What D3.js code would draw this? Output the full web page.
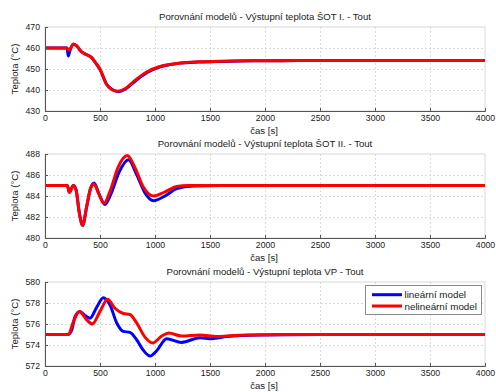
<!DOCTYPE html>
<html>
<head>
<meta charset="utf-8">
<script src="https://cdn.jsdelivr.net/npm/d3@7"></script>
<style>
  html, body { margin: 0; padding: 0; background: #fff; }
  svg { display: block; }
  text { font-family: "Liberation Sans", Arial, sans-serif; fill: #1a1a1a; }
</style>
</head>
<body>
<svg id="chart" width="496" height="392"></svg>
<script>
// ---------- DATA ----------
const titles = [
  "Porovnání modelů - Výstupní teplota ŠOT I. - Tout",
  "Porovnání modelů - Výstupní teplota ŠOT II. - Tout",
  "Porovnání modelů - Výstupní teplota VP - Tout"
];
const xLabel = "čas [s]";
const yLabel = "Teplota (°C)";
const seriesNames = ["lineární model", "nelineární model"];
const xTicks = [0, 500, 1000, 1500, 2000, 2500, 3000, 3500, 4000];
const yTicks1 = [430, 440, 450, 460, 470];
const yTicks2 = [480, 482, 484, 486, 488];
const yTicks3 = [572, 574, 576, 578, 580];

// Panel 1 – ŠOT I.
const p1LinT = [0,200,212,225,258,288,333,379,424,455,500,561,615,668,730,822,928,1034,1140,1230,1400,1600,1900,2300,2800,4000];
const p1LinV = [460,460,456.2,458.5,461.8,461,458.1,456.8,455.4,453.3,449.7,442.6,440.1,439.2,440.4,444.3,448.3,450.8,452.1,452.8,453.3,453.6,453.9,454,454,454];
const p1NonT = [0,197,218,240,258,288,333,379,424,455,500,561,615,658,727,818,924,1030,1136,1227,1400,1600,1900,2300,2800,4000];
const p1NonV = [460,460,458.9,460.6,461.9,461,458.1,456.8,455.4,453.3,450,442.6,440,439.4,440.6,444.6,448.6,450.95,452.2,452.9,453.4,453.7,453.9,454,454,454];

// Panel 2 – ŠOT II.
const p2LinT = [0,203,221,258,282,312,342,379,415,447,487,545,600,675,758,833,909,985,1091,1197,1350,1600,4000];
const p2LinV = [485,485,484.35,485.0,484.6,482.4,481.2,483.0,484.75,485.25,484.3,483.2,484.2,486.3,487.45,486.05,484.3,483.55,484.0,484.7,484.95,485,485];
const p2NonT = [0,203,221,258,282,312,342,379,415,445,485,536,591,667,748,818,894,985,1091,1197,1300,1500,4000];
const p2NonV = [485,485,484.35,485.0,484.6,482.4,481.2,483.0,484.75,485.15,484.3,483.3,484.45,486.8,487.85,486.7,484.85,484.0,484.4,484.9,485,485,485];

// Panel 3 – VP
const p3LinT = [0,212,242,273,318,364,409,470,530,591,652,712,773,833,894,955,1015,1106,1242,1409,1515,1652,1803,2000,2500,4000];
const p3LinV = [575,575,575.4,576.7,577.2,576.8,576.55,577.6,578.5,577.8,576.1,575.3,575.2,574.5,573.5,572.95,573.45,574.6,574.25,574.7,574.6,574.8,574.9,574.95,575,575];
const p3NonT = [0,212,258,312,379,430,500,570,636,712,773,833,909,979,1061,1125,1240,1409,1561,1712,1864,2136,2500,4000];
const p3NonV = [575,575,576.2,577.2,576.4,576.0,577.2,578.35,577.5,577.0,576.9,576.1,574.75,574.2,574.85,575.15,574.85,574.95,574.8,574.9,574.95,575,575,575];

// ---------- LAYOUT ----------
const colors = ["#0000ff", "#ff0000"];
const xLeft = 45, xRight = 485;
const panels = [
  { top: 27,  bottom: 111, ticks: yTicks1, lin: [p1LinT, p1LinV], non: [p1NonT, p1NonV] },
  { top: 154, bottom: 238, ticks: yTicks2, lin: [p2LinT, p2LinV], non: [p2NonT, p2NonV] },
  { top: 282, bottom: 366, ticks: yTicks3, lin: [p3LinT, p3LinV], non: [p3NonT, p3NonV] }
];

const svg = d3.select("#chart");
const x = d3.scaleLinear().domain([xTicks[0], xTicks[xTicks.length - 1]]).range([xLeft, xRight]);

panels.forEach((p, i) => {
  const y = d3.scaleLinear().domain([p.ticks[0], p.ticks[p.ticks.length - 1]]).range([p.bottom, p.top]);
  const g = svg.append("g");

  // frame (light top/right)
  g.append("rect")
    .attr("x", xLeft).attr("y", p.top)
    .attr("width", xRight - xLeft).attr("height", p.bottom - p.top)
    .attr("fill", "#fff").attr("stroke", "#d8d8d8").attr("stroke-width", 1);

  // grid
  g.append("g").selectAll("line").data(xTicks.slice(1, -1)).join("line")
    .attr("x1", d => Math.round(x(d)) + 0.5).attr("x2", d => Math.round(x(d)) + 0.5)
    .attr("y1", p.top).attr("y2", p.bottom)
    .attr("stroke", "#d0d0d0").attr("stroke-dasharray", "2,2").attr("stroke-width", 0.8);
  g.append("g").selectAll("line").data(p.ticks.slice(1, -1)).join("line")
    .attr("y1", d => Math.round(y(d)) + 0.5).attr("y2", d => Math.round(y(d)) + 0.5)
    .attr("x1", xLeft).attr("x2", xRight)
    .attr("stroke", "#d0d0d0").attr("stroke-dasharray", "2,2").attr("stroke-width", 0.8);

  // clip
  const clipId = "clip" + i;
  svg.append("clipPath").attr("id", clipId).append("rect")
    .attr("x", xLeft).attr("y", p.top - 2).attr("width", xRight - xLeft).attr("height", p.bottom - p.top + 4);

  const line = d3.line().x(d => x(d[0])).y(d => y(d[1])).curve(d3.curveMonotoneX);
  const lines = g.append("g").attr("clip-path", `url(#${clipId})`);
  [p.lin, p.non].forEach((s, k) => {
    const pts = s[0].map((t, j) => [t, s[1][j]]);
    lines.append("path").datum(pts).attr("d", line)
      .attr("fill", "none").attr("stroke", colors[k]).attr("stroke-width", 3)
      .attr("stroke-linejoin", "round").attr("stroke-linecap", "round");
  });

  // axes
  const xAxis = d3.axisBottom(x).tickValues(xTicks).tickSize(-3).tickPadding(4).tickFormat(d3.format("d"));
  const yAxis = d3.axisLeft(y).tickValues(p.ticks).tickSize(-3).tickPadding(5).tickFormat(d3.format("d"));
  const gx = g.append("g").attr("transform", `translate(0,${p.bottom})`).call(xAxis);
  const gy = g.append("g").attr("transform", `translate(${xLeft},0)`).call(yAxis);
  [gx, gy].forEach(a => {
    a.select(".domain").attr("stroke", "#555");
    a.selectAll(".tick line").attr("stroke", "#555");
    a.selectAll(".tick text").attr("font-size", "8.7px").attr("fill", "#1a1a1a")
      .attr("font-family", '"Liberation Sans", Arial, sans-serif');
  });

  // title
  g.append("text").attr("x", (xLeft + xRight) / 2).attr("y", p.top - 7.5)
    .attr("text-anchor", "middle").attr("font-size", "9.6px").text(titles[i]);
  // x label
  g.append("text").attr("x", (xLeft + xRight) / 2 - 1).attr("y", p.bottom + 22.5)
    .attr("text-anchor", "middle").attr("font-size", "9.6px").text(xLabel);
  // y label
  g.append("text")
    .attr("transform", `translate(18,${(p.top + p.bottom) / 2}) rotate(-90)`)
    .attr("text-anchor", "middle").attr("font-size", "9.6px").text(yLabel);
});

// legend
const lg = svg.append("g");
lg.append("rect").attr("x", 365.5).attr("y", 285.5).attr("width", 116).attr("height", 29)
  .attr("fill", "#fff").attr("stroke", "#8a8a8a").attr("stroke-width", 1);
seriesNames.forEach((name, k) => {
  const yy = 294.7 + k * 11.3;
  lg.append("line").attr("x1", 372).attr("x2", 402).attr("y1", yy).attr("y2", yy)
    .attr("stroke", colors[k]).attr("stroke-width", 3);
  lg.append("text").attr("x", 404.5).attr("y", yy + 3.5).attr("font-size", "9.8px").text(name);
});
</script>
</body>
</html>
